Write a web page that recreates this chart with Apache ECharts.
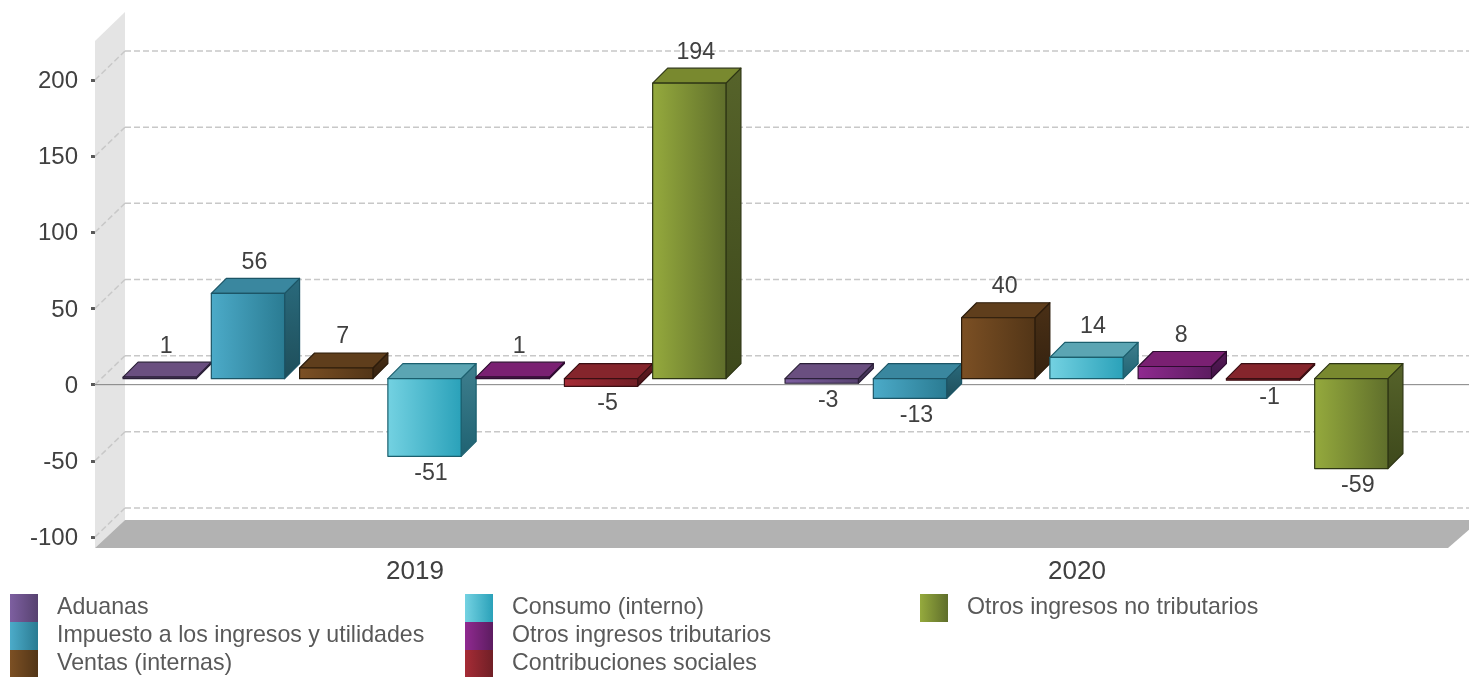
<!DOCTYPE html>
<html><head><meta charset="utf-8">
<style>html,body{margin:0;padding:0;background:#fff;overflow:hidden}#c{width:1469px;height:677px}</style>
<script src="https://cdn.jsdelivr.net/npm/echarts@6/dist/echarts.min.js"></script>
</head><body><div id="c"></div>
<script>
var categories = ['2019', '2020'];
var yTicks = [-100, -50, 0, 50, 100, 150, 200];
var aduanas = [1, -3];
var impuesto = [56, -13];
var ventas = [7, 40];
var consumo = [-51, 14];
var otrosTrib = [1, 8];
var contrib = [-5, -1];
var otrosNoTrib = [194, -59];
var names = ['Aduanas', 'Impuesto a los ingresos y utilidades', 'Ventas (internas)', 'Consumo (interno)', 'Otros ingresos tributarios', 'Contribuciones sociales', 'Otros ingresos no tributarios'];
var values = [aduanas, impuesto, ventas, consumo, otrosTrib, contrib, otrosNoTrib];
// front light, front dark, top, side light, side dark, edge
var palette = [
  ['#7d5fa0', '#574270', '#6a4f80', '#4f3c66', '#3c2d4e', '#2b2038'],
  ['#4cabc9', '#2a7b92', '#3a879f', '#2a6a7c', '#1e4e5a', '#1c5566'],
  ['#7c5024', '#523517', '#5f3e1c', '#4a3016', '#35220f', '#2c1c0b'],
  ['#74d2e2', '#2aa1b9', '#5ba5b3', '#3f7f8e', '#1f6272', '#1b5f6e'],
  ['#902a90', '#5c1c60', '#7a2072', '#581a5a', '#401243', '#2e0c30'],
  ['#a62c36', '#701f26', '#85252c', '#641c22', '#4c1419', '#3a0f13'],
  ['#95aa3d', '#5f6e2b', '#79892f', '#56632a', '#3d481b', '#2e3614']
];
var DEPTH = 15, WALL_X = 30, WALL_Y = 29, SHIFT_X = -1.5, SHIFT_Y = -6, SLOTS = 7.5, BAR_RATIO = 0.83;

function grad(a, b, vertical) {
  return new echarts.graphic.LinearGradient(0, 0, vertical ? 0 : 1, vertical ? 1 : 0, [{offset: 0, color: a}, {offset: 1, color: b}]);
}

function barItem(seriesIdx) {
  return function (params, api) {
    var cat = api.value(0), v = api.value(1), pal = palette[seriesIdx];
    var slot = api.size([1, 0])[0] / SLOTS;
    var w = slot * BAR_RATIO;
    var zero = api.coord([cat, 0]);
    var tip = api.coord([cat, v]);
    var cx = zero[0] + (seriesIdx - 3) * slot + SHIFT_X;
    var x0 = cx - w / 2, x1 = cx + w / 2;
    var yTop = Math.min(zero[1], tip[1]) + SHIFT_Y, yBot = Math.max(zero[1], tip[1]) + SHIFT_Y;
    function poly(pts, fill) {
      return {type: 'polygon', shape: {points: pts}, style: {fill: fill, stroke: pal[5], lineWidth: 1.2, lineJoin: 'round'}};
    }
    var labelY = v >= 0 ? yTop - DEPTH - 16 : yBot + 17;
    return {type: 'group', children: [
      poly([[x1, yTop], [x1 + DEPTH, yTop - DEPTH], [x1 + DEPTH, yBot - DEPTH], [x1, yBot]], grad(pal[3], pal[4], true)),
      poly([[x0, yTop], [x0 + DEPTH, yTop - DEPTH], [x1 + DEPTH, yTop - DEPTH], [x1, yTop]], pal[2]),
      poly([[x0, yTop], [x1, yTop], [x1, yBot], [x0, yBot]], grad(pal[0], pal[1], false)),
      {type: 'text', z2: 50, style: {text: String(v), x: cx + DEPTH / 2 - 1, y: labelY, align: 'center', verticalAlign: 'middle', fontFamily: 'Liberation Sans', fontSize: 23.2, fill: '#404040'}}
    ]};
  };
}

function backdropItem(params, api) {
  var tick = api.value(0);
  var p = api.coord([0, tick]);
  var left = params.coordSys.x;
  var right = 1469;
  var kids = [];
  if (params.dataIndex === 0) {
    var bottom = p[1] + 11;
    var top = api.coord([0, 200])[1] - 39;
    kids.push({type: 'polygon', shape: {points: [[left, top], [left + WALL_X, top - WALL_Y], [left + WALL_X, bottom - WALL_Y + 1], [left, bottom]]}, style: {fill: '#e4e4e4'}});
    kids.push({type: 'polygon', shape: {points: [[left, bottom], [left + WALL_X, bottom - WALL_Y + 1], [1480, bottom - WALL_Y + 1], [1448, bottom]]}, style: {fill: '#b2b2b2'}});
  }
  var dash = {stroke: '#c8c8c8', lineWidth: 1.5, lineDash: [6, 3]};
  kids.push({type: 'line', shape: {x1: left, y1: p[1], x2: left + WALL_X, y2: p[1] - WALL_Y}, style: dash});
  kids.push({type: 'line', shape: {x1: left + WALL_X, y1: p[1] - WALL_Y, x2: right, y2: p[1] - WALL_Y}, style: dash});
  if (tick === 0) {
    kids.push({type: 'line', z2: 5, shape: {x1: left, y1: p[1], x2: right, y2: p[1]}, style: {stroke: '#808080', lineWidth: 1}});
  }
  return {type: 'group', children: kids};
}

var series = [{
  type: 'custom', name: 'fondo', z: 1, silent: true,
  renderItem: backdropItem,
  encode: {y: 0},
  data: yTicks.map(function (t) { return [t]; })
}];
names.forEach(function (n, i) {
  series.push({
    type: 'custom', name: n, z: 3 + i,
    renderItem: barItem(i),
    itemStyle: {color: grad(palette[i][0], palette[i][1], false)},
    encode: {x: 0, y: 1},
    data: values[i].map(function (v, k) { return [k, v]; })
  });
});

function legendCol(left, items) {
  return {
    left: left, top: 594, height: 120, orient: 'vertical', itemGap: 0, itemWidth: 28, itemHeight: 28,
    icon: 'rect', padding: 0, data: items, selectedMode: false, align: 'left',
    textStyle: {fontFamily: 'Liberation Sans', fontSize: 23.2, lineHeight: 20, color: '#595959', padding: [8, 0, 0, 14]},
    itemStyle: {borderWidth: 0}
  };
}

var chart = echarts.init(document.getElementById('c'), null, {renderer: 'canvas'});
chart.setOption({
  animation: false,
  backgroundColor: '#fff',
  textStyle: {fontFamily: 'Liberation Sans'},
  grid: {left: 95, top: 80, width: 1324, height: 457, containLabel: false},
  legend: [legendCol(10, names.slice(0, 3)), legendCol(465, names.slice(3, 6)), legendCol(920, names.slice(6))],
  xAxis: {
    type: 'category', data: categories, axisTick: {show: false},
    axisLine: {show: false, onZero: false},
    axisLabel: {color: '#404040', fontFamily: 'Liberation Sans', fontSize: 26, margin: 22, padding: [0, 22, 0, 0]}
  },
  yAxis: {
    type: 'value', min: -100, max: 200, interval: 50,
    splitLine: {show: false}, axisLine: {show: false},
    axisTick: {show: true, length: 4, inside: false, lineStyle: {color: '#595959', width: 3}},
    axisLabel: {color: '#404040', fontFamily: 'Liberation Sans', fontSize: 24, margin: 17, verticalAlign: 'top', lineHeight: 3}
  },
  series: series
});
</script></body></html>
